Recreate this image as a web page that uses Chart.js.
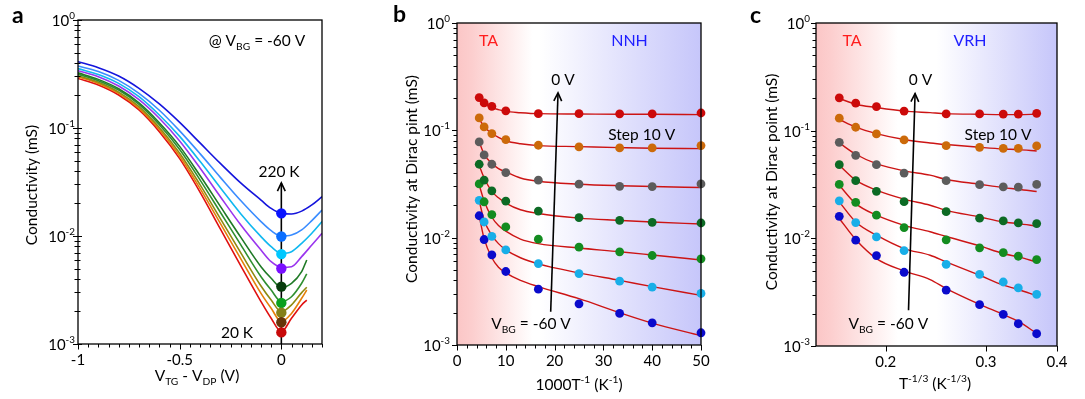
<!DOCTYPE html>
<html><head><meta charset="utf-8">
<script src="https://cdn.jsdelivr.net/npm/chart.js@4.4.1/dist/chart.umd.min.js"></script>
<style>
html,body{margin:0;padding:0;background:#fff;}
body{width:1085px;height:399px;overflow:hidden;position:relative;}
canvas{position:absolute;top:0;}
</style></head>
<body>
<canvas id="ca" width="360" height="399" style="left:0px"></canvas>
<canvas id="cb" width="360" height="399" style="left:360px"></canvas>
<canvas id="cc" width="365" height="399" style="left:720px"></canvas>
<script>
// ---------------- DATA ----------------
// Panel a: conductivity vs V_TG - V_DP at several temperatures
const aX    = [-1,-0.9,-0.8,-0.7,-0.6,-0.5,-0.4,-0.3,-0.2,-0.1,-0.05,0,0.05,0.1,0.15,0.2];
const aXLow = [-1,-0.9,-0.8,-0.7,-0.6,-0.5,-0.4,-0.3,-0.2,-0.1,-0.05,0,0.05,0.1,0.125];
const a220K = [0.411,0.362,0.303,0.233,0.167,0.1127,0.0728,0.0470,0.0310,0.0215,0.0180,0.0162,0.0160,0.0170,0.0194,0.0231];
const a180K = [0.375,0.333,0.276,0.209,0.146,0.094,0.0579,0.0349,0.0213,0.0136,0.0112,0.0100,0.0102,0.0114,0.0139,0.0174];
const a140K = [0.355,0.313,0.259,0.195,0.132,0.0836,0.0492,0.028,0.0161,0.00986,0.00796,0.00692,0.00716,0.00855,0.0106,0.0136];
const a100K = [0.339,0.299,0.245,0.183,0.123,0.0757,0.0426,0.0231,0.0127,0.00741,0.00578,0.00513,0.0052,0.00644,0.00826,0.0106];
const a60K  = [0.324,0.282,0.231,0.171,0.112,0.0676,0.0363,0.0188,0.00977,0.0052,0.00406,0.00335,0.00365,0.00468,0.0060];
const a40K  = [0.316,0.274,0.224,0.165,0.107,0.0631,0.0331,0.0166,0.00832,0.0042,0.00316,0.00247,0.00274,0.00365,0.00445];
const a30K  = [0.305,0.265,0.215,0.158,0.101,0.0583,0.0299,0.0145,0.00701,0.00344,0.00255,0.00199,0.0023,0.00299,0.00335];
const a25K  = [0.299,0.258,0.209,0.152,0.0968,0.0551,0.0276,0.0131,0.00618,0.00294,0.00214,0.00161,0.00192,0.00265,0.00316];
const a20K  = [0.288,0.250,0.202,0.147,0.0925,0.052,0.0255,0.01164,0.00532,0.00247,0.00173,0.0013,0.00173,0.0023,0.00255];
const aDiracT = ['220 K','180 K','140 K','100 K','60 K','40 K','30 K','25 K','20 K'];
const aDirac  = [0.0162,0.0099,0.0068,0.0050,0.0034,0.0024,0.00195,0.00159,0.00128];
const aArrowX = [0, 0];
const aArrowY = [0.001, 0.031];
const aXTickLabels = ['-1','-0.5','0'];
const aXMajor = [-1,-0.5,0];

// Panels b, c: conductivity at Dirac point vs 1000/T and T^-1/3 for V_BG = 0 ... -60 V
const temps = [220,180,140,100,60,40,30,25,20];
const bX = [4.55,5.56,7.14,10,16.67,25,33.33,40,50];            // 1000 T^-1
const cX = [0.1657,0.1771,0.1926,0.2154,0.2554,0.2924,0.3218,0.3420,0.3684]; // T^-1/3
const v0   = [0.202,0.180,0.1675,0.152,0.143,0.143,0.1425,0.1425,0.145];
const vm10 = [0.1306,0.1076,0.0933,0.082,0.0726,0.0701,0.0686,0.0686,0.0721];
const vm20 = [0.078,0.059,0.0483,0.0404,0.0343,0.0315,0.0301,0.0299,0.0317];
const vm30 = [0.0483,0.0343,0.0273,0.0219,0.0177,0.0154,0.0145,0.0139,0.0137];
const vm40 = [0.0317,0.0216,0.0164,0.0126,0.00968,0.00816,0.00738,0.00682,0.00635];
const vm50 = [0.0223,0.0140,0.0103,0.00769,0.00574,0.00463,0.00393,0.00346,0.00302];
const vm60 = [0.0160,0.00961,0.00692,0.00484,0.00331,0.00242,0.00197,0.00161,0.0013];
// fit curves, panel b (NNH)
const bFitX = [4.55,5.56,7.14,8.5,10,13,16.67,25,33.33,40,50];
const bFit0   = [0.198,0.178,0.163,0.156,0.150,0.146,0.143,0.142,0.141,0.141,0.140];
const bFitm10 = [0.128,0.108,0.094,0.086,0.080,0.075,0.072,0.0705,0.069,0.068,0.0675];
const bFitm20 = [0.078,0.060,0.049,0.044,0.041,0.036,0.0335,0.0315,0.0305,0.030,0.0293];
const bFitm30 = [0.047,0.036,0.027,0.0235,0.021,0.0182,0.0168,0.0152,0.0145,0.0140,0.0134];
const bFitm40 = [0.031,0.022,0.0155,0.013,0.0115,0.0097,0.0088,0.0080,0.0074,0.0069,0.0062];
const bFitm50 = [0.022,0.0145,0.0105,0.0088,0.0077,0.0065,0.0057,0.0047,0.0040,0.0035,0.0029];
const bFitm60 = [0.016,0.0098,0.0065,0.0053,0.0047,0.0040,0.0035,0.0027,0.0020,0.0016,0.00122];
// fit curves, panel c (VRH)
const cFitX = [0.1657,0.1771,0.1926,0.2154,0.2393,0.2554,0.2924,0.3218,0.3420,0.3684];
const cFit0   = [0.199,0.176,0.164,0.152,0.147,0.144,0.142,0.141,0.141,0.142];
const cFitm10 = [0.127,0.108,0.094,0.0827,0.0769,0.0743,0.0701,0.0676,0.0667,0.0648];
const cFitm20 = [0.0769,0.0604,0.0494,0.0423,0.0386,0.0352,0.0318,0.0296,0.0286,0.0272];
const cFitm30 = [0.0477,0.0347,0.028,0.0231,0.0203,0.0182,0.0158,0.0142,0.0137,0.0130];
const cFitm40 = [0.0311,0.0210,0.0164,0.0132,0.0115,0.0104,0.0085,0.00723,0.00672,0.00604];
const cFitm50 = [0.0218,0.0142,0.0107,0.00804,0.00697,0.00604,0.00454,0.00367,0.00335,0.00292];
const cFitm60 = [0.0153,0.00975,0.00649,0.00498,0.00414,0.00342,0.00244,0.00196,0.00169,0.00131];
const bArrowX = [19.2, 20.7];
const bArrowY = [0.00204, 0.223];
const cArrowX = [0.2193, 0.2252];
const cArrowY = [0.00215, 0.221];
const bXMajor = [0,10,20,30,40,50];
const cXMajor = [0.2,0.3,0.4];
const yExps = [0,-1,-2,-3];

// ---------------- STYLE ----------------
const FAM = 'Lato, "Open Sans", sans-serif';
const aLineCol = ['#1414dc','#3a8cff','#10b8f0','#9a35ee','#1f7a26','#2f8f2f','#8f8a10','#e57f0a','#e01010'];
const aDotCol  = ['#0a14ff','#0a6eff','#00c8ff','#7a10ff','#073d0c','#0aa01e','#84801a','#66350a','#c80a0a'];
const vCol = ['#cc0a0a','#cc6a0a','#5c5c5c','#0c6a24','#138c20','#18aee8','#0a0acc'];
const FIT = '#cc1414';

function rich(ctx, parts, x, y, align, size, color, bold) {
  const segs = parts.map(p => {
    const t = Array.isArray(p) ? p[0] : p;
    const m = Array.isArray(p) ? p[1] : '';
    const fs = m ? size * 0.66 : size;
    ctx.font = (bold ? 'bold ' : '') + fs + 'px ' + FAM;
    return {t, m, fs, w: ctx.measureText(t).width};
  });
  const W = segs.reduce((s, g) => s + g.w, 0);
  let cx = align === 'center' ? x - W / 2 : (align === 'right' ? x - W : x);
  ctx.fillStyle = color || '#000';
  ctx.textAlign = 'left';
  ctx.textBaseline = 'middle';
  segs.forEach(g => {
    ctx.font = (bold ? 'bold ' : '') + g.fs + 'px ' + FAM;
    const dy = g.m === 'sub' ? size * 0.36 : (g.m === 'sup' ? -size * 0.34 : 0);
    ctx.fillText(g.t, cx, y + dy);
    cx += g.w;
  });
  return W;
}
function line(ctx, x1, y1, x2, y2) { ctx.beginPath(); ctx.moveTo(x1, y1); ctx.lineTo(x2, y2); ctx.stroke(); }
function arrow(ctx, x1, y1, x2, y2) {
  ctx.save(); ctx.strokeStyle = '#000'; ctx.lineWidth = 1.6;
  line(ctx, x1, y1, x2, y2);
  const a = Math.atan2(y2 - y1, x2 - x1), L = 9, s = 0.45;
  ctx.beginPath();
  ctx.moveTo(x2 - L * Math.cos(a - s), y2 - L * Math.sin(a - s));
  ctx.lineTo(x2, y2);
  ctx.lineTo(x2 - L * Math.cos(a + s), y2 - L * Math.sin(a + s));
  ctx.stroke(); ctx.restore();
}

function axesPlugin(o) {
  return {
    id: 'axesDeco',
    beforeDatasetsDraw(chart) {
      const {ctx, chartArea: ca} = chart;
      if (o.gradient) {
        const g = ctx.createLinearGradient(ca.left, 0, ca.right, 0);
        g.addColorStop(0, 'rgb(251,198,198)');
        g.addColorStop(0.06, 'rgb(252,206,206)');
        g.addColorStop(o.gradient[0], 'rgb(255,255,255)');
        g.addColorStop(o.gradient[1], 'rgb(255,255,255)');
        g.addColorStop(1, 'rgb(198,198,250)');
        ctx.save(); ctx.fillStyle = g;
        ctx.fillRect(ca.left, ca.top, ca.right - ca.left, ca.bottom - ca.top);
        ctx.restore();
      }
      if (o.arrowBefore) o.arrowBefore(chart);
    },
    afterDatasetsDraw(chart) {
      const {ctx, chartArea: ca, scales: {x, y}} = chart;
      if (o.arrowAfter) o.arrowAfter(chart);
      ctx.save();
      ctx.strokeStyle = '#000'; ctx.lineWidth = 1.3;
      ctx.strokeRect(ca.left, ca.top, ca.right - ca.left, ca.bottom - ca.top);
      ctx.lineWidth = 1;
      for (let e = -3; e <= 0; e++) {
        for (let m = 1; m <= 9; m++) {
          const v = m * Math.pow(10, e);
          if (v > 1.0001) break;
          const py = Math.round(y.getPixelForValue(v)) + 0.5;
          const len = m === 1 ? 5 : 3.5;
          line(ctx, ca.left - len, py, ca.left + (o.yCross ? len - 1 : 0), py);
        }
      }
      yExps.forEach(e => {
        const py = y.getPixelForValue(Math.pow(10, e));
        rich(ctx, ['10', [String(e), 'sup']], ca.left - o.yGap, py + 1, 'right', 15);
      });
      o.xMinor.forEach(v => {
        const px = Math.round(x.getPixelForValue(v)) + 0.5;
        line(ctx, px, ca.bottom, px, ca.bottom + 3.5);
      });
      o.xMajor.forEach((v, i) => {
        const px = Math.round(x.getPixelForValue(v)) + 0.5;
        line(ctx, px, ca.bottom, px, ca.bottom + 5.5);
        rich(ctx, [o.xLabels[i]], x.getPixelForValue(v), ca.bottom + 16.5, 'center', 15);
      });
      rich(ctx, o.xTitle, o.xTitlePos[0], o.xTitlePos[1], 'center', 15.5);
      ctx.save();
      ctx.translate(o.yTitlePos[0], o.yTitlePos[1]);
      ctx.rotate(-Math.PI / 2);
      rich(ctx, [o.yTitle], 0, 0, 'center', 15.5);
      ctx.restore();
      rich(ctx, [o.letter], o.letterPos[0], o.letterPos[1], 'left', 23, '#000', true);
      (o.texts || []).forEach(t => rich(ctx, t.parts, t.x, t.y, 'center', t.size || 15.5, t.color));
      ctx.restore();
    }
  };
}

function pts(xs, ys) { return ys.map((v, i) => ({x: xs[i], y: v})); }
const baseOpts = (pad, xs) => ({
  responsive: false, animation: false, devicePixelRatio: 1, events: [],
  layout: {padding: pad},
  plugins: {legend: {display: false}, tooltip: {enabled: false}},
  scales: {
    x: Object.assign({display: false}, xs),
    y: {type: 'logarithmic', min: 0.001, max: 1, display: false}
  }
});

// ---------------- PANEL a ----------------
const aCurves = [a220K, a180K, a140K, a100K, a60K, a40K, a30K, a25K, a20K];
const aDatasets = [{
  data: aDirac.map(v => ({x: 0, y: v})),
  showLine: false, pointRadius: 5.2, pointBackgroundColor: aDotCol, pointBorderWidth: 0, clip: false
}].concat(aCurves.map((c, i) => ({
  data: pts(i < 4 ? aX : aXLow, c), showLine: true, pointRadius: 0,
  borderColor: aLineCol[i], borderWidth: 1.6, cubicInterpolationMode: 'monotone'
})));
const aMinor = []; for (let i = 0; i <= 24; i++) aMinor.push(-1 + i * 0.05);
new Chart(document.getElementById('ca'), {
  type: 'scatter',
  data: {datasets: aDatasets},
  options: baseOpts({left: 78, top: 20, right: 38, bottom: 55}, {type: 'linear', min: -1, max: 0.2}),
  plugins: [axesPlugin({
    yCross: true, yGap: 3, xMinor: aMinor, xMajor: aXMajor, xLabels: aXTickLabels,
    xTitle: ['V', ['TG', 'sub'], ' - V', ['DP', 'sub'], ' (V)'], xTitlePos: [197, 376],
    yTitle: 'Conductivity (mS)', yTitlePos: [32, 185],
    letter: 'a', letterPos: [12, 16],
    arrowBefore(chart) {
      const {x, y} = chart.scales;
      arrow(chart.ctx, x.getPixelForValue(aArrowX[0]), y.getPixelForValue(aArrowY[0]),
            x.getPixelForValue(aArrowX[1]), y.getPixelForValue(aArrowY[1]));
    },
    texts: [
      {parts: ['@ V', ['BG', 'sub'], ' = -60 V'], x: 257, y: 41},
      {parts: ['220 K'], x: 279, y: 172},
      {parts: ['20 K'], x: 237, y: 333}
    ]
  })]
});

// ---------------- PANELS b, c ----------------
const vSeries = [v0, vm10, vm20, vm30, vm40, vm50, vm60];
function bcDatasets(xs, fitX, fits) {
  const dots = vSeries.map((s, i) => ({
    data: pts(xs, s), showLine: false, pointRadius: 4.4,
    pointBackgroundColor: vCol[i], pointBorderWidth: 0, clip: false
  }));
  const lines = fits.map(f => ({
    data: pts(fitX, f), showLine: true, pointRadius: 0, borderColor: FIT,
    borderWidth: 1.4, cubicInterpolationMode: 'monotone'
  }));
  return dots.concat(lines);
}
const bMinor = []; for (let v = 0; v <= 50; v += 2) bMinor.push(v);
new Chart(document.getElementById('cb'), {
  type: 'scatter',
  data: {datasets: bcDatasets(bX, bFitX, [bFit0, bFitm10, bFitm20, bFitm30, bFitm40, bFitm50, bFitm60])},
  options: baseOpts({left: 97, top: 23, right: 19, bottom: 54}, {type: 'linear', min: 0, max: 50}),
  plugins: [axesPlugin({
    gradient: [0.31, 0.34], yGap: 7, xMinor: bMinor, xMajor: bXMajor, xLabels: bXMajor.map(String),
    xTitle: ['1000T', ['-1', 'sup'], ' (K', ['-1', 'sup'], ')'], xTitlePos: [219, 385],
    yTitle: 'Conductivity at Dirac pint (mS)', yTitlePos: [52, 179],
    letter: 'b', letterPos: [33, 15],
    arrowAfter(chart) {
      const {x, y} = chart.scales;
      arrow(chart.ctx, x.getPixelForValue(bArrowX[0]), y.getPixelForValue(bArrowY[0]),
            x.getPixelForValue(bArrowX[1]), y.getPixelForValue(bArrowY[1]));
    },
    texts: [
      {parts: ['TA'], x: 128.5, y: 41, color: '#ff1e1e', size: 16},
      {parts: ['NNH'], x: 269.5, y: 41, color: '#1e1eff', size: 16},
      {parts: ['0 V'], x: 203, y: 80},
      {parts: ['Step 10 V'], x: 281.7, y: 135},
      {parts: ['V', ['BG', 'sub'], ' = -60 V'], x: 171, y: 324}
    ]
  })]
});

new Chart(document.getElementById('cc'), {
  type: 'scatter',
  data: {datasets: bcDatasets(cX, cFitX, [cFit0, cFitm10, cFitm20, cFitm30, cFitm40, cFitm50, cFitm60])},
  options: baseOpts({left: 96, top: 23, right: 28, bottom: 53}, {type: 'logarithmic', min: 0.1508, max: 0.4}),
  plugins: [axesPlugin({
    gradient: [0.34, 0.5], yGap: 6, xMinor: [], xMajor: cXMajor, xLabels: cXMajor.map(String),
    xTitle: ['T', ['-1/3', 'sup'], ' (K', ['-1/3', 'sup'], ')'], xTitlePos: [215, 384],
    yTitle: 'Conductivity at Dirac point (mS)', yTitlePos: [52, 182],
    letter: 'c', letterPos: [30, 16],
    arrowAfter(chart) {
      const {x, y} = chart.scales;
      arrow(chart.ctx, x.getPixelForValue(cArrowX[0]), y.getPixelForValue(cArrowY[0]),
            x.getPixelForValue(cArrowX[1]), y.getPixelForValue(cArrowY[1]));
    },
    texts: [
      {parts: ['TA'], x: 132, y: 41, color: '#ff1e1e', size: 16},
      {parts: ['VRH'], x: 250, y: 41, color: '#1e1eff', size: 16},
      {parts: ['0 V'], x: 200.5, y: 80},
      {parts: ['Step 10 V'], x: 278, y: 135},
      {parts: ['V', ['BG', 'sub'], ' = -60 V'], x: 168.3, y: 324}
    ]
  })]
});
</script>
</body></html>
